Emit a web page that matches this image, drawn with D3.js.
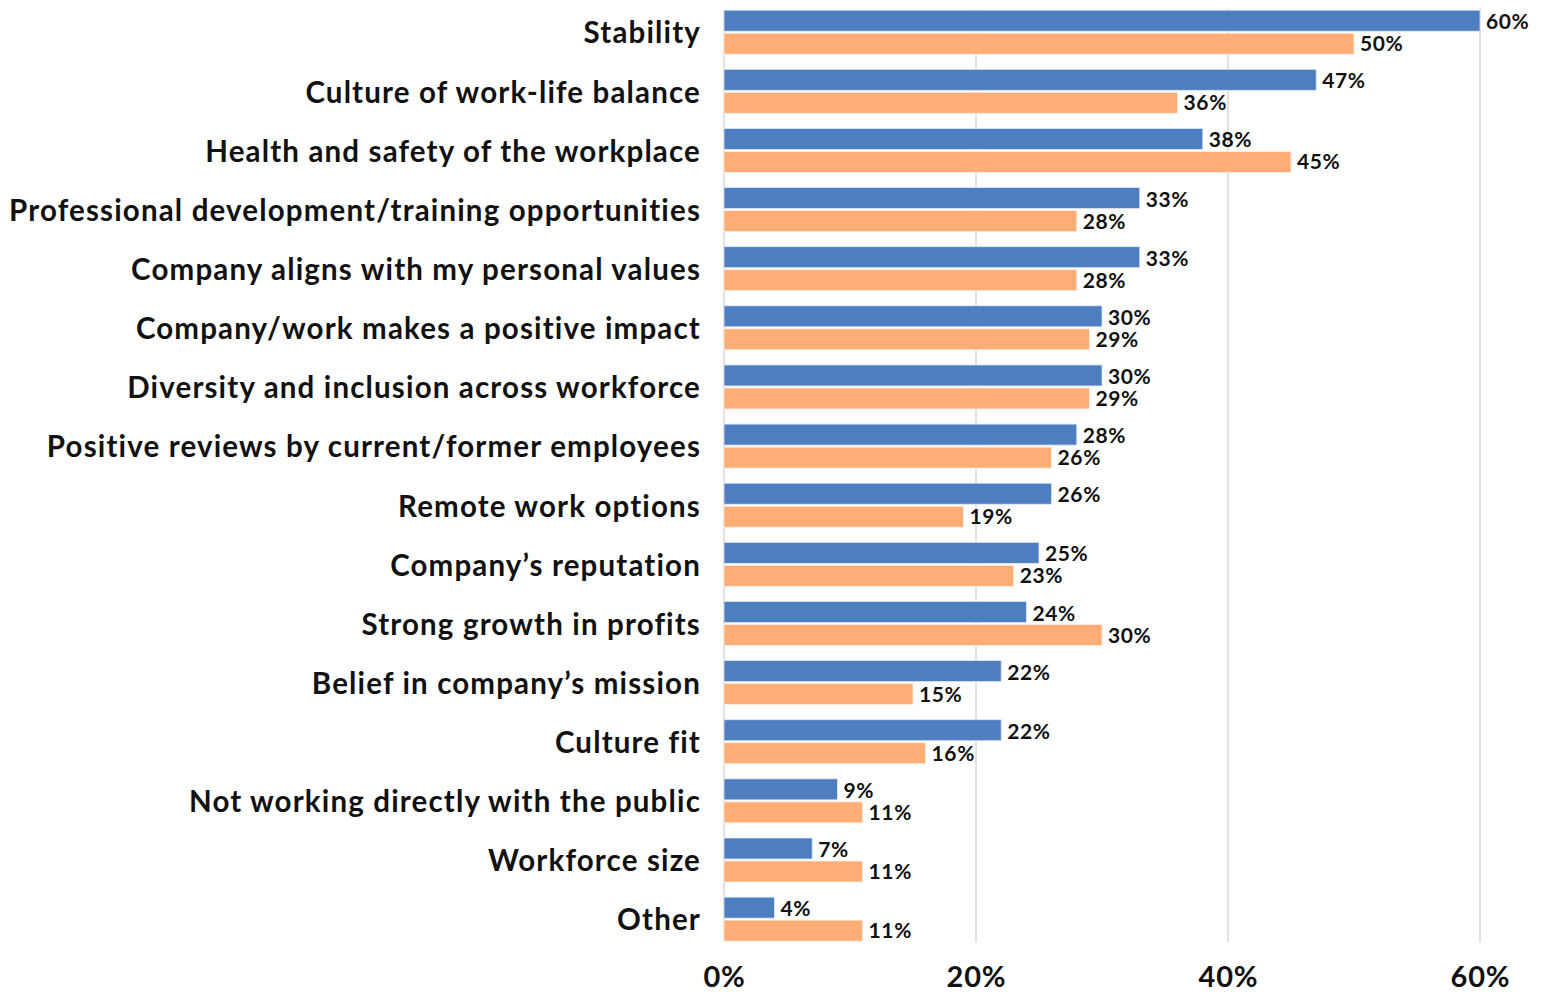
<!DOCTYPE html>
<html>
<head>
<meta charset="utf-8">
<script src="https://cdn.jsdelivr.net/npm/d3@7/dist/d3.min.js"></script>
<style>
  html, body { margin: 0; padding: 0; background: #fff; }
  svg { display: block; }
  text { font-family: Lato, "Open Sans", sans-serif; font-weight: 700; fill: #111; font-variant-ligatures: none; }
</style>
</head>
<body>
<svg id="chart" width="1542" height="992"></svg>
<script>
// Reasons for choosing an employer, two survey groups
const categories = [
  "Stability",
  "Culture of work-life balance",
  "Health and safety of the workplace",
  "Professional development/training opportunities",
  "Company aligns with my personal values",
  "Company/work makes a positive impact",
  "Diversity and inclusion across workforce",
  "Positive reviews by current/former employees",
  "Remote work options",
  "Company\u2019s reputation",
  "Strong growth in profits",
  "Belief in company\u2019s mission",
  "Culture fit",
  "Not working directly with the public",
  "Workforce size",
  "Other"
];
const seriesA = [60, 47, 38, 33, 33, 30, 30, 28, 26, 25, 24, 22, 22, 9, 7, 4];
const seriesB = [50, 36, 45, 28, 28, 29, 29, 26, 19, 23, 30, 15, 16, 11, 11, 11];
const xTicks = [0, 20, 40, 60];

const svg = d3.select("#chart");
const left = 724, right = 1480;
const gridTop = 9, gridBottom = 942;

const x = d3.scaleLinear().domain([0, 60]).range([left, right]);
const y = d3.scaleBand().domain(categories).range([2.6, 948.7]).paddingInner(0).paddingOuter(0);
const barH = 21, barGap = 2;

// vertical gridlines
svg.append("g").selectAll("line").data(xTicks).join("line")
  .attr("x1", d => x(d)).attr("x2", d => x(d))
  .attr("y1", gridTop).attr("y2", gridBottom)
  .attr("stroke", "#cfcfcf").attr("stroke-width", 1.2);

// x-axis tick labels
const xAxis = d3.axisBottom(x).tickValues(xTicks).tickFormat(d => d + "%").tickSize(0).tickPadding(0);
const gx = svg.append("g").attr("transform", `translate(0, 966)`).call(xAxis);
gx.select(".domain").remove();
gx.selectAll("text").attr("font-family", "Lato, 'Open Sans', sans-serif")
  .attr("font-weight", 700).attr("font-size", 29).attr("fill", "#111")
  .attr("letter-spacing", "0.8px").attr("dy", "0.72em");

const rows = categories.map((c, i) => ({ c, a: seriesA[i], b: seriesB[i] }));
const center = d => y(d.c) + y.bandwidth() / 2;

const g = svg.append("g");
// blue series
g.selectAll("rect.a").data(rows).join("rect").attr("class", "a")
  .attr("x", x(0)).attr("y", d => center(d) - barGap / 2 - barH)
  .attr("width", d => x(d.a) - x(0)).attr("height", barH)
  .attr("fill", "#4d7ebf").attr("stroke", "#dfe8f5").attr("stroke-width", 0.8);
// orange series
g.selectAll("rect.b").data(rows).join("rect").attr("class", "b")
  .attr("x", x(0)).attr("y", d => center(d) + barGap / 2)
  .attr("width", d => x(d.b) - x(0)).attr("height", barH)
  .attr("fill", "#ffad76").attr("stroke", "#fff0e4").attr("stroke-width", 0.8);

// value labels
g.selectAll("text.va").data(rows).join("text").attr("class", "va")
  .attr("x", d => x(d.a) + 6).attr("y", d => center(d) - barGap / 2 - barH / 2 + 1)
  .attr("dy", "0.36em").attr("font-size", 21).attr("letter-spacing", "0.6px")
  .attr("fill", "#222").text(d => d.a + "%");
g.selectAll("text.vb").data(rows).join("text").attr("class", "vb")
  .attr("x", d => x(d.b) + 6).attr("y", d => center(d) + barGap / 2 + barH / 2)
  .attr("dy", "0.36em").attr("font-size", 21).attr("letter-spacing", "0.6px")
  .attr("fill", "#222").text(d => d.b + "%");

// category labels
svg.append("g").selectAll("text").data(categories).join("text")
  .attr("x", 701).attr("y", d => y(d) + y.bandwidth() / 2 + 1)
  .attr("dy", "0.35em").attr("text-anchor", "end")
  .attr("font-size", 29.5).attr("letter-spacing", "1.15px")
  .attr("fill", "#111").text(d => d);
</script>
</body>
</html>
